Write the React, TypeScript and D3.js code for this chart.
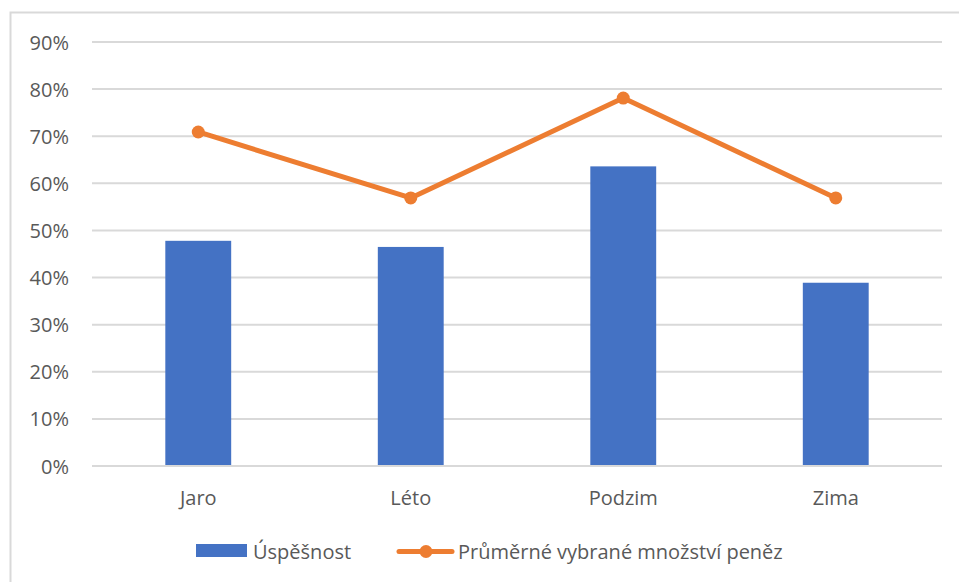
import { useMemo } from "react";
import * as d3 from "d3";

const WIDTH = 959;
const HEIGHT = 582;
const MARGIN = { top: 42, right: 17, bottom: 116, left: 92 };

const categories = ["Jaro", "Léto", "Podzim", "Zima"];
const successRate = [0.478, 0.465, 0.636, 0.389];
const avgWithdrawn = [0.709, 0.569, 0.781, 0.569];
const yTicks = [0, 0.1, 0.2, 0.3, 0.4, 0.5, 0.6, 0.7, 0.8, 0.9];
const seriesNames = ["Úspěšnost", "Průměrné vybrané množství peněz"];

const BLUE = "#4472C4";
const ORANGE = "#ED7D31";
const GRID = "#D9D9D9";
const TEXT = "#595959";
const FONT = "'Open Sans', sans-serif";

export default function App() {
  const boundsWidth = WIDTH - MARGIN.left - MARGIN.right;
  const boundsHeight = HEIGHT - MARGIN.top - MARGIN.bottom;

  const xScale = useMemo(
    () =>
      d3
        .scaleBand<string>()
        .domain(categories)
        .range([0, boundsWidth])
        .paddingInner(0.69)
        .paddingOuter(0.345),
    [boundsWidth]
  );

  const yScale = useMemo(
    () => d3.scaleLinear().domain([0, 0.9]).range([boundsHeight, 0]),
    [boundsHeight]
  );

  const fmt = d3.format(".0%");
  const cx = (c: string) => (xScale(c) ?? 0) + xScale.bandwidth() / 2;

  const line = d3
    .line<number>()
    .x((_, i) => cx(categories[i]))
    .y((d) => yScale(d));

  return (
    <svg
      width={WIDTH}
      height={HEIGHT}
      style={{ position: "absolute", left: 0, top: 0, background: "#fff" }}
      fontFamily={FONT}
    >
      <rect x={10.5} y={12.5} width={960} height={600} fill="#fff" stroke={GRID} strokeWidth={2} />
      <g transform={`translate(${MARGIN.left}, ${MARGIN.top})`}>
        {yTicks.map((t) => (
          <g key={t}>
            <line x1={0} x2={boundsWidth} y1={yScale(t)} y2={yScale(t)} stroke={GRID} strokeWidth={2} />
            <text
              x={-23}
              y={yScale(t)}
              textAnchor="end"
              dominantBaseline="central"
              fontSize={20}
              fill={TEXT}
            >
              {fmt(t)}
            </text>
          </g>
        ))}
        {categories.map((c, i) => (
          <rect
            key={c}
            x={xScale(c)}
            width={xScale.bandwidth()}
            y={yScale(successRate[i])}
            height={boundsHeight - yScale(successRate[i])}
            fill={BLUE}
          />
        ))}
        <line x1={0} x2={boundsWidth} y1={boundsHeight} y2={boundsHeight} stroke={GRID} strokeWidth={2} />
        {categories.map((c) => (
          <text
            key={c}
            x={cx(c)}
            y={boundsHeight + 31}
            textAnchor="middle"
            dominantBaseline="central"
            fontSize={20}
            fill={TEXT}
          >
            {c}
          </text>
        ))}
        <path
          d={line(avgWithdrawn) ?? ""}
          fill="none"
          stroke={ORANGE}
          strokeWidth={5}
          strokeLinejoin="round"
          strokeLinecap="round"
        />
        {avgWithdrawn.map((v, i) => (
          <circle key={i} cx={cx(categories[i])} cy={yScale(v)} r={6.5} fill={ORANGE} />
        ))}
      </g>
      <g fontSize={20} fill={TEXT}>
        <rect x={196} y={544} width={51} height={13} fill={BLUE} />
        <text x={253} y={551} dominantBaseline="central">
          {seriesNames[0]}
        </text>
        <line x1={399} x2={452} y1={551.5} y2={551.5} stroke={ORANGE} strokeWidth={5} strokeLinecap="round" />
        <circle cx={426} cy={551.5} r={6.5} fill={ORANGE} />
        <text x={458} y={551} dominantBaseline="central">
          {seriesNames[1]}
        </text>
      </g>
    </svg>
  );
}
